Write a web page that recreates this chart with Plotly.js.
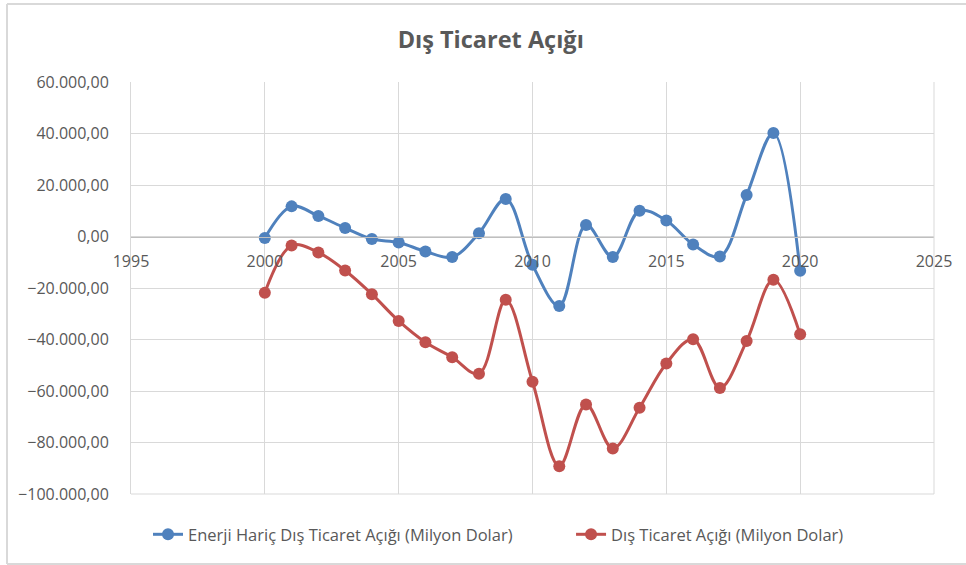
<!DOCTYPE html>
<html>
<head>
<meta charset="utf-8">
<script src="https://cdn.plot.ly/plotly-3.0.1.min.js"></script>
<style>
  html, body { margin: 0; padding: 0; background: #ffffff; }
  #chart { width: 966px; height: 565px; }
</style>
</head>
<body>
<div id="chart"></div>
<script>
// Years (x values)
const years = [2000, 2001, 2002, 2003, 2004, 2005, 2006, 2007, 2008, 2009, 2010,
               2011, 2012, 2013, 2014, 2015, 2016, 2017, 2018, 2019, 2020];

// Enerji Hariç Dış Ticaret Açığı (Milyon Dolar)
const energyExcluded = [-600, 11700, 8000, 3300, -1000, -2300, -5800, -8000, 1300, 14600, -11000,
                        -27000, 4500, -8000, 10000, 6200, -3100, -7800, 16100, 40200, -13300];

// Dış Ticaret Açığı (Milyon Dolar)
const tradeDeficit = [-21800, -3500, -6200, -13200, -22400, -32800, -41100, -46900, -53300, -24600, -56400,
                      -89200, -65200, -82300, -66500, -49300, -39900, -58800, -40600, -16800, -38000];

const seriesNames = ['Enerji Hariç Dış Ticaret Açığı (Milyon Dolar)', 'Dış Ticaret Açığı (Milyon Dolar)'];
const chartTitle = 'Dış Ticaret Açığı';

const xTicks = [1995, 2000, 2005, 2010, 2015, 2020, 2025];
const yTicks = [60000, 40000, 20000, 0, -20000, -40000, -60000, -80000, -100000];

const yMin = -100000, yMax = 60000;
const xMin = 1995, xMax = 2025;

const FONT = 'Open Sans, sans-serif';
const TXT = '#595959';
const GRID = '#d9d9d9';

const traces = [
  {
    x: years, y: energyExcluded, name: seriesNames[0], legend: 'legend',
    type: 'scatter', mode: 'lines+markers',
    line: { color: '#4f81bd', width: 3, shape: 'spline', smoothing: 1 },
    marker: { color: '#4f81bd', size: 12 }
  },
  {
    x: years, y: tradeDeficit, name: seriesNames[1], legend: 'legend2',
    type: 'scatter', mode: 'lines+markers',
    line: { color: '#c0504d', width: 3, shape: 'spline', smoothing: 1 },
    marker: { color: '#c0504d', size: 12 }
  }
];

// position of the horizontal axis where y = 0 (fraction of plot height)
const zeroPos = (0 - yMin) / (yMax - yMin);

const legendStyle = {
  orientation: 'h', xanchor: 'left', y: -0.056, yanchor: 'top',
  font: { family: FONT, size: 16.5, color: TXT },
  bgcolor: 'rgba(0,0,0,0)'
};

const layout = {
  width: 966, height: 565,
  margin: { l: 131, r: 32, t: 82, b: 71, pad: 0 },
  paper_bgcolor: '#ffffff', plot_bgcolor: '#ffffff',
  separators: ',.',
  font: { family: FONT, color: TXT, size: 16 },
  title: {
    text: '<b>' + chartTitle + '</b>',
    font: { family: FONT, size: 23.5, color: TXT },
    x: 0.508, xanchor: 'center', y: 0.93, yanchor: 'middle', xref: 'container', yref: 'container'
  },
  showlegend: true,
  legend: Object.assign({}, legendStyle, { x: 0.0212 }),
  legend2: Object.assign({}, legendStyle, { x: 0.548 }),
  xaxis: {
    range: [xMin, xMax], tickvals: xTicks, ticktext: xTicks.map(String),
    showgrid: true, gridcolor: GRID, gridwidth: 1,
    zeroline: false, showline: true, linecolor: '#bfbfbf', linewidth: 1,
    anchor: 'free', position: zeroPos,
    ticks: '', ticklabelstandoff: 10,
    tickfont: { family: FONT, size: 16, color: TXT },
    fixedrange: true
  },
  yaxis: {
    range: [yMin, yMax], tickvals: yTicks, tickformat: ',.2f',
    showgrid: true, gridcolor: GRID, gridwidth: 1,
    zeroline: false, showline: true, linecolor: GRID, linewidth: 1,
    ticks: '', ticklabelstandoff: 18,
    tickfont: { family: FONT, size: 16, color: TXT },
    fixedrange: true
  },
  shapes: [
    // right and bottom edges of plot area
    { type: 'line', xref: 'paper', yref: 'paper', x0: 1, x1: 1, y0: 0, y1: 1, line: { color: GRID, width: 1 } },
    { type: 'line', xref: 'paper', yref: 'paper', x0: 0, x1: 1, y0: 0, y1: 0, line: { color: GRID, width: 1 } },
    // chart outer border (left, top, bottom)
    { type: 'line', xref: 'paper', yref: 'paper', x0: -124/803, x1: -124/803, y0: -70/412, y1: 490/412, line: { color: '#d9d9d9', width: 2 }, layer: 'above' },
    { type: 'line', xref: 'paper', yref: 'paper', x0: -124/803, x1: 835/803, y0: 490/412, y1: 490/412, line: { color: '#d9d9d9', width: 2 }, layer: 'above' },
    { type: 'line', xref: 'paper', yref: 'paper', x0: -124/803, x1: 835/803, y0: -70/412, y1: -70/412, line: { color: '#d9d9d9', width: 2 }, layer: 'above' }
  ]
};

Plotly.newPlot('chart', traces, layout, { staticPlot: true, displayModeBar: false });
</script>
</body>
</html>
